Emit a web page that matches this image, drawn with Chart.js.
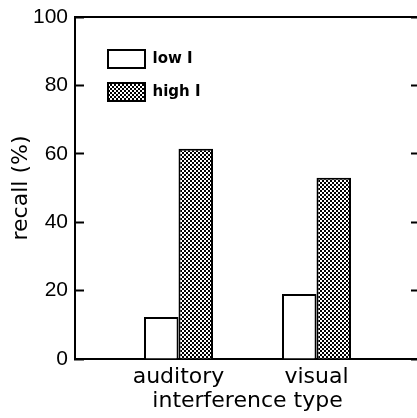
<!DOCTYPE html>
<html>
<head>
<meta charset="utf-8">
<script src="https://cdn.jsdelivr.net/npm/chart.js@4"></script>
<style>
  html, body { margin: 0; padding: 0; background: #fff; overflow: hidden; }
  #wrap { width: 422px; height: 418px; }
</style>
</head>
<body>
<div id="wrap"><canvas id="recallChart" width="422" height="418"></canvas></div>
<script>
const categories = ['auditory', 'visual'];
const lowI = [12.3, 19];
const highI = [61.5, 53];
const yTicks = [0, 20, 40, 60, 80, 100];

// dotted fill used for the "high I" bars
function dotPattern() {
  const c = document.createElement('canvas');
  c.width = 4; c.height = 4;
  const g = c.getContext('2d');
  g.fillStyle = '#000'; g.fillRect(0, 0, 4, 4);
  g.fillStyle = '#fff';
  g.fillRect(0, 0, 2, 2);
  g.fillRect(2, 2, 2, 2);
  return g.createPattern(c, 'repeat');
}

const spacing = {
  id: 'spacing',
  beforeInit(chart) { chart.ctx.letterSpacing = '2px'; }
};
const legendInside = {
  id: 'legendInside',
  afterLayout(chart) {
    const lg = chart.legend, a = chart.chartArea;
    lg.left = a.left + 18; lg.top = a.top + 18;
  }
};

Chart.defaults.color = '#000';
Chart.defaults.font.family = 'DejaVu Sans';

const toPts = arr => arr.map((v, i) => ({ x: i, y: v }));
const ctx = document.getElementById('recallChart').getContext('2d');

new Chart(ctx, {
  type: 'bar',
  data: {
    datasets: [
      { label: 'low I', data: toPts(lowI), backgroundColor: '#fff', borderColor: '#000', borderWidth: 2 },
      { label: 'high I', data: toPts(highI), backgroundColor: dotPattern(), borderColor: '#000', borderWidth: 2 }
    ]
  },
  options: {
    responsive: false,
    animation: false,
    categoryPercentage: 0.5,
    barPercentage: 1,
    layout: { padding: { left: 0, top: 17, right: 2, bottom: 0 } },
    plugins: {
      tooltip: { enabled: false },
      legend: {
        position: 'chartArea',
        align: 'start',
        labels: {
          boxWidth: 37, boxHeight: 18, padding: 15,
          font: { family: 'DejaVu Sans', size: 15, weight: 'bold' }
        }
      }
    },
    scales: {
      x: {
        type: 'linear', position: 'bottom', offset: false,
        min: -0.75, max: 1.75,
        afterBuildTicks: s => { s.ticks = categories.map((c, i) => ({ value: i })); },
        afterFit: s => { s.height = 59; },
        ticks: { callback: v => categories[v], font: { size: 22 }, padding: -3, maxRotation: 0 },
        grid: { display: false },
        border: { display: true, color: '#000', width: 2 },
        title: { display: true, text: 'interference type', font: { size: 22 }, padding: { top: 0, bottom: 4 } }
      },
      xTop: {
        type: 'linear', position: 'top', min: 0, max: 1,
        afterFit: s => { s.height = 0; },
        ticks: { display: false },
        grid: { display: false },
        border: { display: true, color: '#000', width: 2 }
      },
      y: {
        position: 'left', min: 0, max: 100,
        afterBuildTicks: s => { s.ticks = yTicks.map(v => ({ value: v })); },
        afterFit: s => { s.width = 75; s.paddingTop = 0; s.paddingBottom = 0; },
        ticks: { font: { family: 'Liberation Sans', size: 21 }, padding: 16 },
        grid: { drawOnChartArea: false, tickLength: -9, tickWidth: 2, color: '#000' },
        border: { display: true, color: '#000', width: 2 },
        title: { display: true, text: 'recall (%)', font: { size: 22 }, padding: { top: 8, bottom: 0 } }
      },
      yRight: {
        position: 'right', min: 0, max: 100,
        afterBuildTicks: s => { s.ticks = yTicks.map(v => ({ value: v })); },
        afterFit: s => { s.width = 0; s.paddingTop = 0; s.paddingBottom = 0; },
        ticks: { display: false },
        grid: { drawOnChartArea: false, tickLength: -9, tickWidth: 2, color: '#000' },
        border: { display: false }
      }
    }
  },
  plugins: [spacing, legendInside]
});
</script>
</body>
</html>
